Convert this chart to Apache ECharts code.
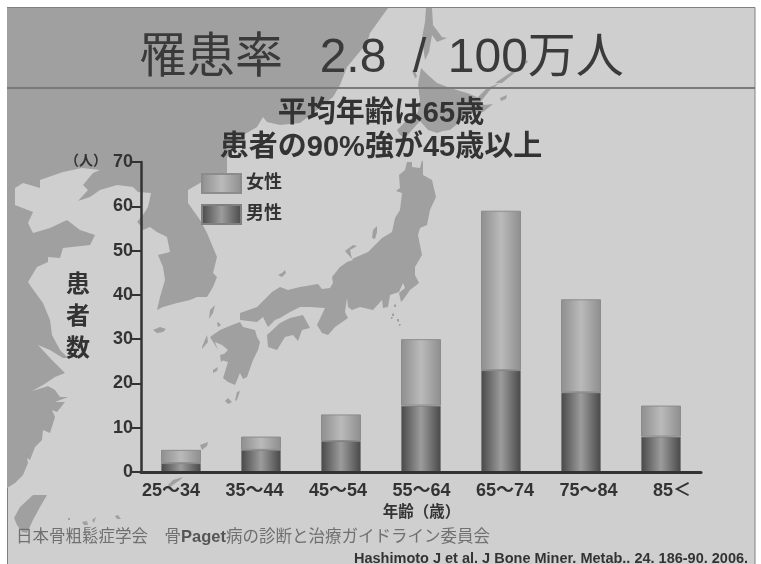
<!DOCTYPE html>
<html>
<head>
<meta charset="utf-8">
<style>
  html, body { margin: 0; padding: 0; background: #fff; }
  #main { width: 761px; height: 564px; }
</style>
<script src="https://cdn.jsdelivr.net/npm/echarts@6/dist/echarts.min.js"></script>
</head>
<body>
<div id="main"></div>
<script>
// 年齢別の患者数（人）
const ageGroups = ['25〜34', '35〜44', '45〜54', '55〜64', '65〜74', '75〜84', '85＜'];
const maleCounts = [2, 5, 7, 15, 23, 18, 8];
const femaleCounts = [3, 3, 6, 15, 36, 21, 7];

const FONT = '"Liberation Sans", "Noto Sans CJK JP", sans-serif';
const INK = '#333';
const SEA = '#cfcfcf';
const LAND = '#a0a0a0';

// 背景の地図（飾り）
const mainland = [7,8, 388,8, 370,33, 367,43, 347,67, 340,85, 333,97, 317,110, 300,123, 280,125, 267,122, 263,117,
  257,127, 240,137, 227,157, 227,173, 200,183, 188,190, 188,203, 200,220, 207,233, 217,257, 213,273, 217,277,
  213,287, 207,297, 197,297, 190,300, 177,303, 163,307, 157,310, 160,297, 165,280, 163,267, 158,255, 170,252,
  167,237, 157,232, 150,227, 143,230, 140,225, 137,222, 143,215, 148,207, 151,193, 138,192, 133,187, 117,185,
  100,190, 90,197, 78,201, 88,190, 83,185, 93,173, 100,170, 82,168, 63,172, 40,180, 40,188, 23,183, 15,188,
  15,205, 33,212, 28,223, 33,233, 50,228, 67,220, 80,230, 95,235, 90,245, 63,248, 60,258, 48,257, 48,262, 37,267,
  28,282, 32,288, 43,303, 50,320, 52,335, 60,350, 68,358, 63,358, 50,350, 38,345, 50,358, 65,373, 55,377, 43,385,
  32,391, 42,388, 48,386, 55,390, 60,397, 68,397, 55,402, 65,402, 57,412, 52,410, 55,417, 50,433, 43,430, 42,440,
  35,447, 30,460, 27,458, 28,463, 23,475, 15,483, 7,488];
const honshu = [240,313, 257,307, 272,292, 280,287, 288,290, 300,287, 318,284, 322,289, 330,288, 333,283, 332,277,
  340,267, 347,262, 353,260, 345,251, 353,245, 357,246, 350,250, 352,259, 368,252, 382,238, 392,232, 395,218,
  400,210, 402,193, 396,191, 400,188, 399,175, 405,170, 407,162, 412,162, 412,167, 420,168, 422,160, 423,162,
  423,175, 432,180, 436,197, 430,210, 427,225, 420,228, 418,235, 422,255, 415,267, 415,275, 419,283, 410,290,
  403,300, 401,302, 399,293, 405,288, 403,283, 399,292, 390,295, 388,307, 383,308, 382,300, 373,310, 360,307,
  352,310, 348,307, 347,298, 345,312, 348,318, 335,327, 328,335, 322,333, 317,325, 325,308, 310,307, 300,307,
  290,312, 280,318, 275,320, 268,327, 263,317, 257,322, 240,320];
const shikoku = [267,335, 280,323, 290,318, 303,315, 310,328, 302,330, 298,341, 293,335, 285,337, 277,350, 268,347];
const kyushu = [232,325, 240,322, 243,327, 255,330, 257,337, 260,342, 258,350, 253,360, 247,377, 243,379, 240,373,
  235,385, 228,382, 223,378, 225,372, 228,362, 221,360, 225,353, 228,350, 222,345, 215,342, 218,350, 215,345,
  210,337, 220,330];
const hokkaido = [421,68, 428,75, 437,83, 450,88, 467,93, 477,97, 483,98, 480,103, 485,105, 493,104, 483,112,
  470,113, 462,120, 450,130, 443,131, 437,133, 428,130, 420,121, 412,130, 405,138, 400,135, 397,130, 405,122,
  412,118, 418,112, 420,100, 418,85];
const sakhalin = [426,8, 432,8, 433,25, 442,37, 447,38, 437,42, 432,35, 429,52, 425,60, 422,38, 425,22];
const taiwan = [47,495, 33,495, 20,507, 14,518, 17,525, 22,532, 27,533, 33,520, 40,507];
const islands = [
  [153,330, 160,327, 166,329, 163,332, 157,333],      // 済州島
  [210,310, 215,305, 213,313, 209,319],               // 対馬
  [217,323, 218,322, 221,325, 218,327],               // 壱岐
  [202,347, 207,335, 208,342, 202,349],               // 五島
  [213,370, 218,367, 217,371, 213,373],               // 甑島
  [220,355, 227,353, 223,360, 221,362],               // 天草
  [237,392, 240,391, 237,400, 235,401],               // 種子島
  [225,401, 228,398, 232,402, 228,404],               // 屋久島
  [200,445, 208,442, 207,446, 202,450],
  [168,485, 173,480, 183,477, 180,480, 170,487],
  [278,275, 282,273, 285,270, 286,273, 282,277],      // 隠岐
  [372,238, 373,230, 377,226, 377,232, 375,239],      // 佐渡
  [412,71, 415,70, 417,77, 415,78],                   // 利尻
  [477,98, 487,88, 500,83, 490,90, 482,100],          // 国後
  [495,83, 510,73, 517,68, 527,60, 528,62, 518,70, 502,83],  // 択捉
  [500,98, 507,95, 506,99, 501,101],
  [394,305, 396,304, 396,307, 394,307],
  [392,314, 394,313, 394,316, 392,316],
  [391,317, 393,317, 392,319, 391,319],
  [397,319, 399,319, 399,322, 397,321],
  [399,324, 401,324, 400,326, 399,326],
  [68,518, 70,518, 70,520, 68,520],
  [82,522, 87,521, 88,525, 84,525],
  [92,520, 96,517, 94,523],
  [115,516, 118,515, 121,519, 117,519]
];

function toPoints(flat) {
  const pts = [];
  for (let i = 0; i < flat.length; i += 2) pts.push([flat[i], flat[i + 1]]);
  return pts;
}

const landShapes = [mainland, honshu, shikoku, kyushu, hokkaido, sakhalin, taiwan].concat(islands).map(flat => ({
  type: 'polygon',
  silent: true,
  z: -1,
  shape: { points: toPoints(flat) },
  style: { fill: LAND }
}));

function sideShade(edge, center) {
  return {
    type: 'linear', x: 0, y: 0, x2: 1, y2: 0,
    colorStops: [
      { offset: 0, color: edge },
      { offset: 0.5, color: center },
      { offset: 1, color: edge }
    ]
  };
}

const myChart = echarts.init(document.getElementById('main'), null, { renderer: 'canvas' });

const titleFont = { fontSize: 48, fontWeight: 'normal', color: '#3a3a3a', fontFamily: FONT };

const option = {
  animation: false,
  textStyle: { fontFamily: FONT },
  title: [
    {
      text: '{a|罹患率  }{b|2.8  / }{c|100万人}',
      left: 139, top: 35,
      padding: 0,
      textStyle: {
        fontSize: 48,
        fontWeight: 'normal',
        rich: {
          a: titleFont,
          b: Object.assign({ padding: [0, 0, 0, 10] }, titleFont),
          c: Object.assign({ padding: [0, 0, 0, 8] }, titleFont)
        }
      }
    },
    {
      text: '平均年齢は65歳',
      left: 381, top: 99, textAlign: 'center',
      textStyle: { fontSize: 29, fontWeight: 'bold', color: INK, fontFamily: FONT },
      padding: 0
    },
    {
      text: '患者の90%強が45歳以上',
      left: 381, top: 133, textAlign: 'center',
      textStyle: { fontSize: 29, fontWeight: 'bold', color: INK, fontFamily: FONT },
      padding: 0
    },
    {
      text: '{n|日本骨粗鬆症学会　骨}{b|Paget}{n|病の診断と治療ガイドライン委員会}',
      left: 16, top: 529,
      padding: 0,
      textStyle: {
        fontFamily: FONT,
        fontSize: 16.5,
        fontWeight: 'normal',
        rich: {
          n: { fontSize: 16.5, color: '#707070', fontWeight: 'normal', fontFamily: FONT },
          b: { fontSize: 16.5, color: '#555', fontWeight: 'bold', fontFamily: FONT }
        }
      }
    },
    {
      text: 'Hashimoto J et al. J Bone Miner. Metab.. 24. 186-90. 2006.',
      left: 354, top: 552,
      padding: 0,
      textStyle: { fontSize: 14.5, fontWeight: 'bold', color: INK, fontFamily: FONT }
    }
  ],
  legend: {
    data: ['女性', '男性'],
    orient: 'vertical',
    left: 201, top: 173,
    padding: 0,
    itemWidth: 39, itemHeight: 19, itemGap: 10,
    icon: 'rect',
    textStyle: { fontSize: 18, fontWeight: 'bold', color: INK, fontFamily: FONT, padding: [3, 0, 0, 0] }
  },
  grid: [
    { left: 141, width: 560, top: 162, height: 310 },
    // 年齢ラベルは棒より少し広い間隔で並ぶので別グリッドにする
    { left: 129.35, width: 584.5, top: 162, height: 310 }
  ],
  xAxis: [
    {
      type: 'category', gridIndex: 0, data: ageGroups, z: 3,
      axisLine: { lineStyle: { color: INK, width: 3 } },
      axisTick: { show: false },
      axisLabel: { show: false }
    },
    {
      type: 'category', gridIndex: 1, data: ageGroups,
      axisLine: { show: false },
      axisTick: { show: false },
      axisLabel: { fontSize: 18, fontWeight: 'bold', color: INK, margin: 10, fontFamily: FONT },
      name: '年齢（歳）',
      nameLocation: 'middle',
      nameGap: 33,
      nameTextStyle: { fontSize: 15.5, fontWeight: 'bold', color: INK, fontFamily: FONT }
    }
  ],
  yAxis: [
    {
      type: 'value', gridIndex: 0, min: 0, max: 70, interval: 10, z: 3,
      axisLine: { show: true, lineStyle: { color: INK, width: 2.5 } },
      axisTick: { show: true, length: 9, lineStyle: { color: INK, width: 2 } },
      axisLabel: { fontSize: 18, fontWeight: 'bold', color: INK, margin: 8, fontFamily: FONT },
      splitLine: { show: false },
      name: '患\n者\n数',
      nameLocation: 'middle',
      nameRotate: 0,
      nameGap: 51,
      nameTextStyle: { fontSize: 24, fontWeight: 'bold', color: INK, lineHeight: 32, fontFamily: FONT }
    },
    { type: 'value', gridIndex: 1, min: 0, max: 70, show: false }
  ],
  series: [
    {
      name: '男性', type: 'bar', stack: 'total', data: maleCounts, barWidth: 40,
      itemStyle: { color: sideShade('#484848', '#9c9c9c'), borderColor: '#808080', borderWidth: 1 }
    },
    {
      name: '女性', type: 'bar', stack: 'total', data: femaleCounts, barWidth: 40,
      itemStyle: { color: sideShade('#8e8e8e', '#bababa'), borderColor: '#8c8c8c', borderWidth: 1 }
    }
  ],
  graphic: [
    { type: 'rect', silent: true, z: -2, shape: { x: 7.5, y: 7.5, width: 747.5, height: 560 }, style: { fill: SEA, stroke: '#808080', lineWidth: 1 } }
  ].concat(landShapes, [
    { type: 'rect', silent: true, z: -1, shape: { x: 7, y: 87, width: 748, height: 2 }, style: { fill: '#7a7a7a' } },
    { type: 'rect', silent: true, z: -1, shape: { x: 7, y: 7, width: 748, height: 1 }, style: { fill: '#808080' } },
    { type: 'text', silent: true, z: 5, style: { x: 65, y: 154, text: '（人）', fontSize: 14, fontWeight: 'bold', fill: INK, fontFamily: FONT } }
  ])
};

myChart.setOption(option);
window.addEventListener('resize', () => myChart.resize());
</script>
</body>
</html>
